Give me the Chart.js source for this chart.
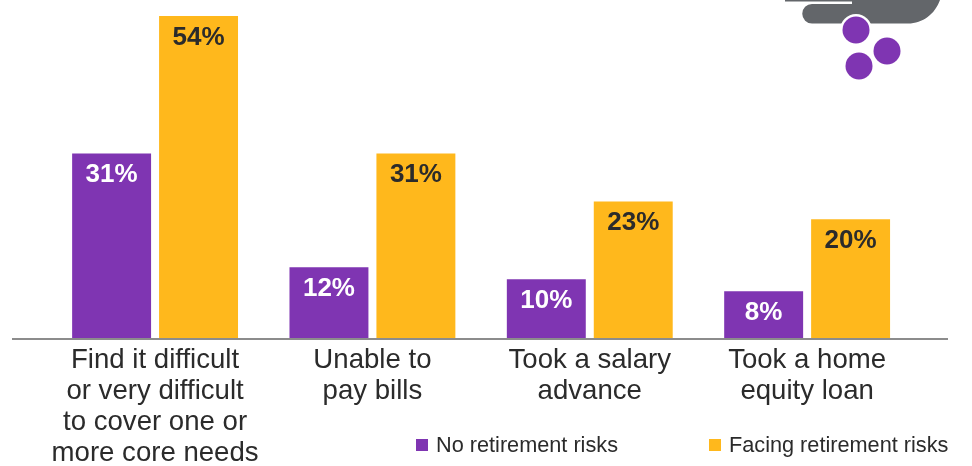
<!DOCTYPE html>
<html>
<head>
<meta charset="utf-8">
<title>Financial stress and retirement risks</title>
<script src="https://cdn.jsdelivr.net/npm/chart.js@4/dist/chart.umd.min.js"></script>
<style>
  html, body { margin: 0; padding: 0; background: #fff; }
  #wrap { position: relative; width: 972px; height: 466px; overflow: hidden; }
  #chart { position: absolute; left: 0; top: 0; }
  #icon { position: absolute; left: 0; top: 0; }
</style>
</head>
<body>
<div id="wrap">
  <canvas id="chart" width="972" height="466"></canvas>
  <!-- cloud and drops in the corner -->
  <svg id="icon" width="972" height="466">
    <path d="M785 0 H852 V1.5 H785 Z" fill="#63666a"/>
    <path d="M852 0 H940 C935 14 923 23.5 908 23.5 H812 A9.7 9.7 0 0 1 812 4 H852 Z" fill="#63666a"/>
    <circle cx="856" cy="30" r="16" fill="#fff"/>
    <circle cx="856" cy="30" r="13.5" fill="#7f35b2"/>
    <circle cx="887" cy="51" r="13.5" fill="#7f35b2"/>
    <circle cx="859" cy="66" r="13.5" fill="#7f35b2"/>
  </svg>
</div>
<script>
const categories = [
  ["Find it difficult", "or very difficult", "to cover one or", "more core needs"],
  ["Unable to", "pay bills"],
  ["Took a salary", "advance"],
  ["Took a home", "equity loan"]
];
const noRisks = [31, 12, 10, 8];
const facingRisks = [54, 31, 23, 20];
const seriesNames = ["No retirement risks", "Facing retirement risks"];

const PURPLE = "#7f35b2";
const YELLOW = "#ffb81c";
const FONT = '"Liberation Sans", Arial, sans-serif';

/* ================= VALUE LABELS ================= */
const barLabels = {
  id: "barLabels",
  afterDatasetsDraw(chart) {
    const ctx = chart.ctx;
    ctx.save();
    ctx.font = "bold 26px " + FONT;
    ctx.textAlign = "center";
    ctx.textBaseline = "middle";
    chart.data.datasets.forEach((ds, i) => {
      ctx.fillStyle = i === 0 ? "#fff" : "#2b2b2b";
      chart.getDatasetMeta(i).data.forEach((bar, j) => {
        ctx.fillText(ds.data[j] + "%", bar.x, bar.y + 21.5);
      });
    });
    ctx.restore();
  }
};

/* ================= BASELINE + LEGEND ================= */
const frame = {
  id: "frame",
  afterDraw(chart) {
    const ctx = chart.ctx;
    const y = chart.scales.x.top;
    ctx.save();
    ctx.strokeStyle = "#8c8c8c";
    ctx.lineWidth = 2;
    ctx.beginPath();
    ctx.moveTo(12, y);
    ctx.lineTo(948, y);
    ctx.stroke();

    const keys = [[416, seriesNames[0], PURPLE], [709, seriesNames[1], YELLOW]];
    ctx.font = "21.7px " + FONT;
    ctx.textBaseline = "middle";
    ctx.textAlign = "left";
    keys.forEach(([x, name, color]) => {
      ctx.fillStyle = color;
      ctx.fillRect(x, 439, 12, 12);
      ctx.fillStyle = "#2b2b2b";
      ctx.fillText(name, x + 20, 446);
    });
    ctx.restore();
  }
};

new Chart(document.getElementById("chart"), {
  type: "bar",
  data: {
    labels: categories,
    datasets: [
      { label: seriesNames[0], data: noRisks, backgroundColor: PURPLE },
      { label: seriesNames[1], data: facingRisks, backgroundColor: YELLOW }
    ]
  },
  options: {
    responsive: false,
    animation: false,
    layout: { padding: { top: 10, left: 46.4, right: 56.2, bottom: 0 } },
    datasets: { bar: { categoryPercentage: 0.8, barPercentage: 0.908 } },
    plugins: { legend: { display: false }, tooltip: { enabled: false } },
    scales: {
      x: {
        afterFit(scale) { scale.height = 127; },
        grid: { display: false },
        border: { display: false },
        ticks: {
          autoSkip: false,
          maxRotation: 0,
          padding: -2,
          color: "#2b2b2b",
          font: { family: FONT, size: 27.6, lineHeight: 1.123 }
        }
      },
      y: { display: false, min: 0, max: 55 }
    }
  },
  plugins: [barLabels, frame]
});
</script>
</body>
</html>
